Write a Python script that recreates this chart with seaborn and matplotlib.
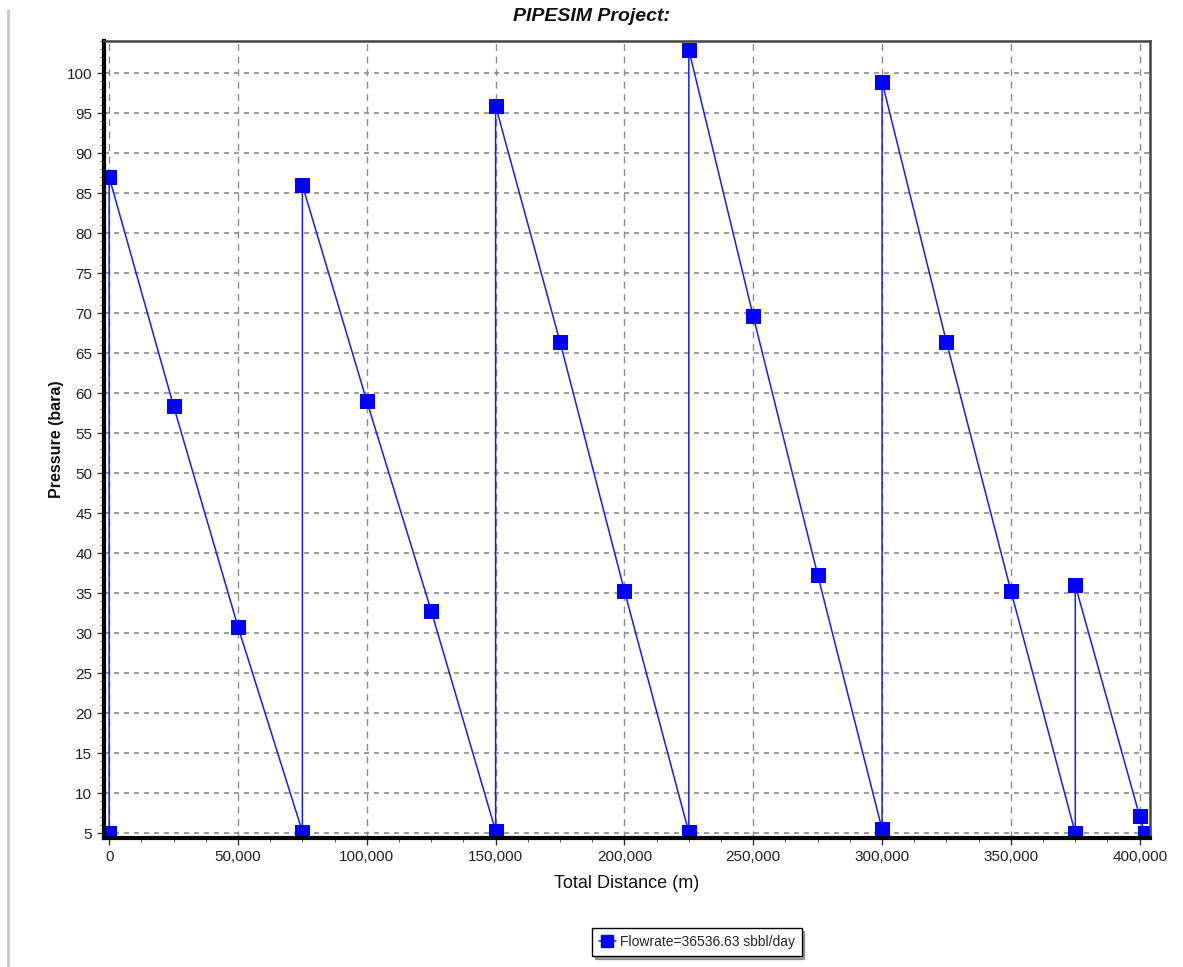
import matplotlib
matplotlib.use("Agg")
import matplotlib.pyplot as plt
import matplotlib.ticker as mticker
from matplotlib.lines import Line2D
import pandas as pd
import seaborn as sns

# pipeline pressure profile (distance in m, pressure in bara)
distance = [0, 0, 25000, 50000, 75000, 75000, 100000, 125000, 150000, 150000,
            175000, 200000, 225000, 225000, 250000, 275000, 300000, 300000,
            325000, 350000, 375000, 375000, 400000, 402000]
pressure = [5.0, 87.0, 58.4, 30.8, 5.2, 86.0, 59.0, 32.8, 5.3, 95.9,
            66.4, 35.3, 5.1, 102.9, 69.6, 37.3, 5.5, 98.9,
            66.4, 35.3, 5.0, 36.0, 7.1, 5.0]
series_label = "Flowrate=36536.63 sbbl/day"

df = pd.DataFrame({"Distance": distance, "Pressure": pressure})

sns.set_theme(style="white")
plt.rcParams["font.family"] = ["Liberation Sans", "DejaVu Sans"]

fig = plt.figure(figsize=(11.83, 9.67), dpi=100)
ax = fig.add_axes([0.0879, 0.1334, 0.8842, 0.8242])

sns.lineplot(data=df, x="Distance", y="Pressure", sort=False, estimator=None,
             color="#1a1aff", linewidth=1.1, marker="s", markersize=10,
             markerfacecolor="#0000ff", markeredgecolor="#0000ff",
             ax=ax, legend=False)

ax.set_xlim(-2000, 404000)
ax.set_ylim(4.4, 104)
ax.xaxis.set_major_locator(mticker.MultipleLocator(50000))
ax.xaxis.set_minor_locator(mticker.MultipleLocator(12500))
ax.yaxis.set_major_locator(mticker.MultipleLocator(5))
ax.yaxis.set_minor_locator(mticker.MultipleLocator(1))
ax.xaxis.set_major_formatter(mticker.FuncFormatter(lambda v, p: f"{int(v):,}"))

ax.grid(True, which="major", axis="x", color="#8c8c8c", linestyle=(0, (5, 4)), linewidth=1)
ax.grid(True, which="major", axis="y", color="#8c8c8c", linestyle=(0, (3, 3)), linewidth=1.2)

ax.tick_params(axis="both", which="major", direction="out", length=5, width=1,
               color="#333333", labelsize=11, labelcolor="#222222", bottom=True, left=True)
ax.tick_params(axis="both", which="minor", direction="out", length=3, width=0.7,
               color="#555555", bottom=True, left=True)

for side in ["left", "bottom"]:
    ax.spines[side].set_color("black")
    ax.spines[side].set_linewidth(3)
for side in ["top", "right"]:
    ax.spines[side].set_color("#444444")
    ax.spines[side].set_linewidth(1.8)

ax.set_xlabel("Total Distance (m)", fontsize=13, color="#111111", labelpad=8)
ax.set_ylabel("Pressure (bara)", fontsize=11.5, fontweight="bold", color="#111111",
              labelpad=2)
fig.text(0.5, 0.992, "PIPESIM Project:", ha="center", va="top", fontsize=14,
         fontweight="bold", fontstyle="italic", color="#111111")

handle = Line2D([], [], color="#1a1aff", linewidth=1.1, marker="s", markersize=8,
                markerfacecolor="#0000ff", markeredgecolor="#0000ff")
fig.legend([handle], [series_label], loc="lower center", bbox_to_anchor=(0.589, 0.004),
           frameon=True, fancybox=False, shadow=True, fontsize=10, handlelength=1.2,
           handletextpad=0.3, borderpad=0.5, edgecolor="black")

# light panel border on the left
fig.add_artist(Line2D([0.0068, 0.0068], [0, 0.99], color="#c8c8c8", linewidth=2,
                      transform=fig.transFigure))

fig.savefig("out.png", dpi=100)
